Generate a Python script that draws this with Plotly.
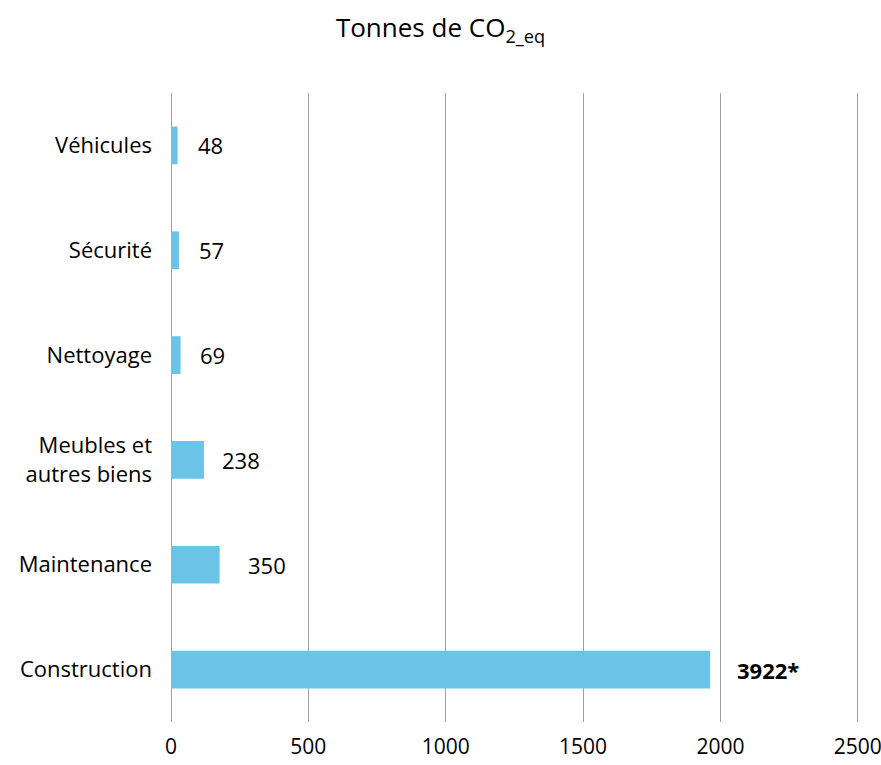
import plotly.graph_objects as go

categories = ["Véhicules", "Sécurité", "Nettoyage", "Meubles et<br>autres biens", "Maintenance", "Construction"]
bar_lengths = [24, 29, 35, 120, 177, 1963]
value_labels = ["48", "57", "69", "238", "350", "<b>3922*</b>"]
x_ticks = [0, 500, 1000, 1500, 2000, 2500]

label_shift = [18, 18, 17, 16, 26, 25]

FONT = "Open Sans"
BAR_COLOR = "#6BC4E8"

fig = go.Figure()
fig.add_trace(go.Bar(
    y=categories, x=bar_lengths, orientation="h",
    marker=dict(color=BAR_COLOR, line=dict(width=0)),
    width=0.36, hoverinfo="skip",
))

for c, v, t, s in zip(categories, bar_lengths, value_labels, label_shift):
    fig.add_annotation(x=v, y=c, text=t, showarrow=False, xanchor="left",
                       xshift=s, font=dict(family=FONT, size=22, color="#000000"))

fig.update_layout(
    width=881, height=765,
    paper_bgcolor="white", plot_bgcolor="white",
    margin=dict(l=171, r=15, t=93, b=43),
    showlegend=False,
    font=dict(family=FONT, size=22, color="#000000"),
    title=dict(text="Tonnes de CO<sub>2_eq</sub>", x=0.5, xanchor="center",
               y=0.963, yanchor="middle",
               font=dict(family=FONT, size=26, color="#000000")),
)
fig.update_xaxes(range=[0, 2530], tickvals=x_ticks, ticktext=[str(t) for t in x_ticks],
                 showgrid=True, gridcolor="#A0A0A0", gridwidth=1,
                 zeroline=True, zerolinecolor="#A0A0A0", zerolinewidth=1,
                 showline=False, ticks="", ticklabelstandoff=10, automargin=False,
                 ticklabeloverflow="allow", tickfont=dict(size=21))
fig.update_yaxes(autorange="reversed", showgrid=False, showline=False, ticks="",
                 ticklabelstandoff=18, automargin=False)

fig.write_html("out.html", config={"displayModeBar": False},
               post_script="document.body.style.margin='0';document.body.style.padding='0';")
